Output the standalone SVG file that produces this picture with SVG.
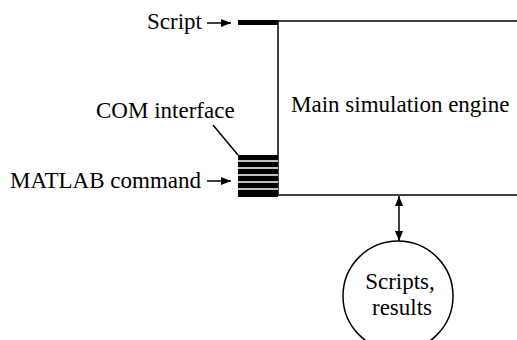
<svg xmlns="http://www.w3.org/2000/svg" width="517" height="340" viewBox="0 0 517 340">
  <style>
    .t { font-family: 'Liberation Serif', 'DejaVu Serif', serif; font-size: 23px; fill: #000; }
    .ln { stroke: #000; stroke-width: 1.5; fill: none; }
  </style>
  <defs>
    <marker id="ah" viewBox="0 0 10 8" refX="10" refY="4" markerWidth="10" markerHeight="8" markerUnits="userSpaceOnUse" orient="auto-start-reverse">
      <path d="M0,0 L10,4 L0,8 Z" fill="#000"/>
    </marker>
  </defs>
  <rect width="517" height="340" fill="#fff"/>

  <g id="engine">
    <rect x="278" y="21" width="260" height="174" class="ln"/>
    <text class="t" x="291" y="112" font-family="Liberation Serif, serif">Main simulation engine</text>
  </g>

  <g id="script-port">
    <rect x="238" y="20" width="40" height="5" fill="#000"/>
    <text class="t" x="202" y="29" text-anchor="end" font-family="Liberation Serif, serif">Script</text>
  </g>

  <g id="com-interface">
    <rect x="238" y="155" width="40" height="42" fill="#000"/>
    <g stroke="#fff" stroke-width="1.5">
      <line x1="238" y1="161" x2="278" y2="161"/>
      <line x1="238" y1="168" x2="278" y2="168"/>
      <line x1="238" y1="175" x2="278" y2="175"/>
      <line x1="238" y1="182" x2="278" y2="182"/>
      <line x1="238" y1="189" x2="278" y2="189"/>
    </g>
    <text class="t" x="96" y="118" font-family="Liberation Serif, serif">COM interface</text>
    <text class="t" x="10" y="188" font-family="Liberation Serif, serif">MATLAB command</text>
  </g>

  <g id="scripts-results">
    <circle cx="398" cy="296" r="55" class="ln"/>
    <text class="t" x="400" y="289" text-anchor="middle" font-family="Liberation Serif, serif">Scripts,</text>
    <text class="t" x="402" y="315" text-anchor="middle" font-family="Liberation Serif, serif">results</text>
  </g>

  <g id="connectors">
    <line x1="207" y1="23" x2="231" y2="23" class="ln" marker-end="url(#ah)"/>
    <line x1="207" y1="181" x2="231" y2="181" class="ln" marker-end="url(#ah)"/>
    <line x1="213" y1="125" x2="238" y2="155" class="ln"/>
    <line x1="399" y1="196" x2="399" y2="241" class="ln" marker-start="url(#ah)" marker-end="url(#ah)"/>
  </g>
</svg>
